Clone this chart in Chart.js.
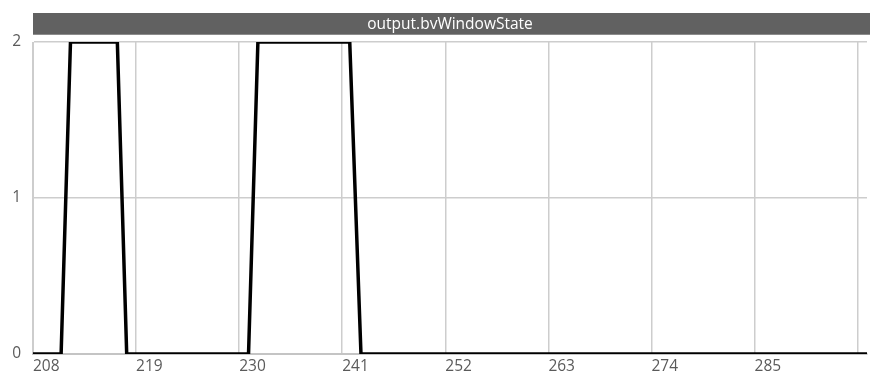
<!DOCTYPE html>
<html>
<head>
<meta charset="utf-8">
<script src="https://cdn.jsdelivr.net/npm/chart.js@4/dist/chart.umd.min.js"></script>
<style>
  html, body { margin: 0; padding: 0; background: #fff; }
  #wrap { width: 870px; height: 376px; }
</style>
</head>
<body>
<div id="wrap"><canvas id="stateChart"></canvas></div>
<script>
// signal samples (time, state)
const times = [208, 211, 212, 217, 218, 231, 232, 241.8, 243, 297];
const states = [0, 0, 2, 2, 0, 0, 2, 2, 0, 0];

// axis ticks
const xTickValues = [208, 219, 230, 241, 252, 263, 274, 285, 296];
const xTickLabels = ["208", "219", "230", "241", "252", "263", "274", "285", ""];
const yTickValues = [0, 1, 2];

const chartTitle = "output.bvWindowState";

// dark header bar behind the title
const titleBar = {
  id: "titleBar",
  beforeDraw(chart) {
    const ctx = chart.ctx;
    const left = chart.chartArea.left;
    ctx.save();
    ctx.fillStyle = "#616161";
    ctx.fillRect(left, 13, chart.width - left, 22);
    ctx.fillStyle = "#8c8c8c";
    ctx.fillRect(left, 34, chart.width - left, 1);
    ctx.restore();
  }
};

const ctx = document.getElementById("stateChart").getContext("2d");
new Chart(ctx, {
  type: "line",
  data: {
    datasets: [{
      data: times.map((t, i) => ({ x: t, y: states[i] })),
      borderColor: "#000",
      borderWidth: 3.5,
      pointRadius: 0,
      tension: 0,
      fill: false
    }]
  },
  options: {
    responsive: true,
    maintainAspectRatio: false,
    animation: false,
    layout: { padding: { top: 0, right: 3, left: 0, bottom: 0 } },
    plugins: {
      legend: { display: false },
      tooltip: { enabled: false },
      title: {
        display: true,
        text: chartTitle,
        fullSize: false,
        color: "#fff",
        font: { family: "'Open Sans', sans-serif", size: 15.5, weight: "normal", lineHeight: 1.2 },
        padding: { top: 15, bottom: 8.4 }
      }
    },
    scales: {
      x: {
        type: "linear",
        min: 208,
        max: 297,
        afterBuildTicks: s => { s.ticks = xTickValues.map(v => ({ value: v })); },
        afterFit: s => { s.height = 22; },
        grid: { color: "#cdcdcd", lineWidth: 1.5, drawTicks: false },
        border: { color: "#c4c4c4", width: 2 },
        ticks: {
          align: "start",
          padding: 3,
          color: "#5a5a5a",
          font: { family: "'Open Sans', sans-serif", size: 15.5 },
          maxRotation: 0,
          callback: (v) => {
            const i = xTickValues.indexOf(v);
            return i >= 0 ? xTickLabels[i] : "";
          }
        }
      },
      y: {
        min: 0,
        max: 2,
        afterBuildTicks: s => { s.ticks = yTickValues.map(v => ({ value: v })); },
        afterFit: s => { s.width = 33; },
        grid: { color: "#cdcdcd", lineWidth: 1.5, drawTicks: false },
        border: { color: "#cdcdcd" },
        ticks: {
          padding: 12,
          color: "#5a5a5a",
          font: { family: "'Open Sans', sans-serif", size: 15.5 }
        }
      }
    }
  },
  plugins: [titleBar]
});
</script>
</body>
</html>
